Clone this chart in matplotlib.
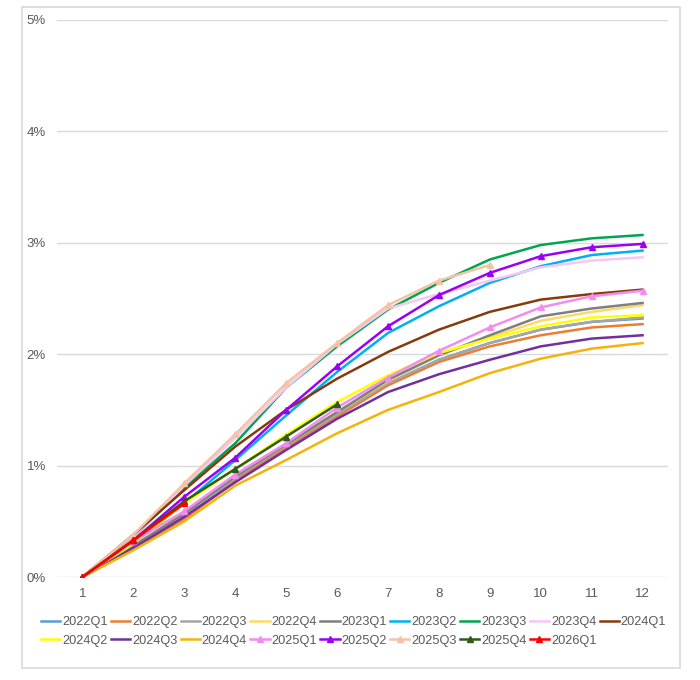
import matplotlib.pyplot as plt
from matplotlib.patches import Rectangle
from matplotlib.ticker import FuncFormatter

plt.rcParams['font.family'] = ['Liberation Sans', 'DejaVu Sans']

months = list(range(1, 13))

# cumulative % by month, one list per quarter cohort
q22_1 = [0, 0.27, 0.55, 0.88, 1.17, 1.45, 1.73, 1.95, 2.10, 2.22, 2.29, 2.32]
q22_2 = [0, 0.25, 0.52, 0.86, 1.16, 1.44, 1.72, 1.93, 2.07, 2.17, 2.24, 2.27]
q22_3 = [0, 0.27, 0.55, 0.89, 1.18, 1.46, 1.74, 1.95, 2.10, 2.22, 2.29, 2.33]
q22_4 = [0, 0.28, 0.57, 0.90, 1.19, 1.48, 1.76, 1.99, 2.15, 2.30, 2.38, 2.44]
q23_1 = [0, 0.28, 0.57, 0.90, 1.19, 1.48, 1.77, 1.99, 2.17, 2.34, 2.41, 2.46]
q23_2 = [0, 0.30, 0.66, 1.05, 1.45, 1.84, 2.19, 2.43, 2.64, 2.79, 2.89, 2.93]
q23_3 = [0, 0.36, 0.80, 1.20, 1.70, 2.07, 2.40, 2.64, 2.85, 2.98, 3.04, 3.07]
q23_4 = [0, 0.36, 0.82, 1.25, 1.70, 2.09, 2.41, 2.54, 2.66, 2.78, 2.84, 2.87]
q24_1 = [0, 0.38, 0.78, 1.17, 1.50, 1.78, 2.02, 2.22, 2.38, 2.49, 2.54, 2.58]
q24_2 = [0, 0.30, 0.66, 0.97, 1.28, 1.57, 1.81, 2.01, 2.14, 2.25, 2.33, 2.35]
q24_3 = [0, 0.26, 0.54, 0.85, 1.14, 1.42, 1.66, 1.82, 1.95, 2.07, 2.14, 2.17]
q24_4 = [0, 0.24, 0.50, 0.82, 1.05, 1.29, 1.50, 1.66, 1.83, 1.96, 2.05, 2.10]
q25_1 = [0, 0.32, 0.59, 0.92, 1.20, 1.52, 1.79, 2.03, 2.24, 2.42, 2.52, 2.57]
q25_2 = [0, 0.33, 0.72, 1.07, 1.50, 1.89, 2.25, 2.53, 2.73, 2.88, 2.96, 2.99]
q25_3 = [0, 0.38, 0.84, 1.28, 1.74, 2.10, 2.44, 2.66, 2.80]
q25_4 = [0, 0.33, 0.68, 0.97, 1.26, 1.55]
q26_1 = [0, 0.33, 0.66]

labels = ['2022Q1', '2022Q2', '2022Q3', '2022Q4', '2023Q1', '2023Q2', '2023Q3',
          '2023Q4', '2024Q1', '2024Q2', '2024Q3', '2024Q4', '2025Q1', '2025Q2',
          '2025Q3', '2025Q4', '2026Q1']
series = [q22_1, q22_2, q22_3, q22_4, q23_1, q23_2, q23_3, q23_4, q24_1, q24_2,
          q24_3, q24_4, q25_1, q25_2, q25_3, q25_4, q26_1]
colors = ['#5B9BD5', '#ED7D31', '#A5A5A5', '#FFD966', '#7F7F7F', '#00B0F0',
          '#00A64F', '#F7C6F4', '#843C0C', '#FFFF00', '#7030A0', '#F5B20A',
          '#F28CEF', '#9B00F5', '#F4C3A6', '#2E5A1C', '#FF0000']
with_marker = [False] * 12 + [True] * 5

fig = plt.figure(figsize=(7, 6.8), dpi=100)
# outer chart frame
fig.patches.append(Rectangle((22 / 700, 1 - 668 / 680), 658 / 700, 661 / 680,
                             transform=fig.transFigure, fill=False,
                             edgecolor='#D9D9D9', linewidth=1.2))
ax = fig.add_axes([57 / 700, 1 - 577 / 680, 611 / 700, 557 / 680])

handles = []
for lab, vals, col, mk in zip(labels, series, colors, with_marker):
    h, = ax.plot(months[:len(vals)], vals, color=col, linewidth=1.8,
                 marker='^' if mk else None, markersize=4.5, label=lab)
    handles.append(h)

ax.set_xlim(0.5, 12.5)
ax.set_ylim(0, 5)
ax.set_xticks(months)
ax.set_yticks([0, 1, 2, 3, 4, 5])
ax.yaxis.set_major_formatter(FuncFormatter(lambda v, p: '%d%%' % v))
ax.grid(axis='y', color='#D9D9D9', linewidth=1)
ax.set_axisbelow(True)
for s in ax.spines.values():
    s.set_visible(False)
ax.tick_params(length=0, labelsize=9.5, labelcolor='#595959', pad=8)

# row-major order for a 2-row, 9-column legend
order = [0, 9, 1, 10, 2, 11, 3, 12, 4, 13, 5, 14, 6, 15, 7, 16, 8]
fig.legend([handles[i] for i in order], [labels[i] for i in order],
           ncol=9, loc='upper center', bbox_to_anchor=(0.505, 1 - 605 / 680),
           frameon=False, fontsize=9.2, handlelength=1.5, handletextpad=0.15,
           columnspacing=0.26, labelspacing=0.5, labelcolor='#595959')

fig.savefig('out.png', dpi=100)
